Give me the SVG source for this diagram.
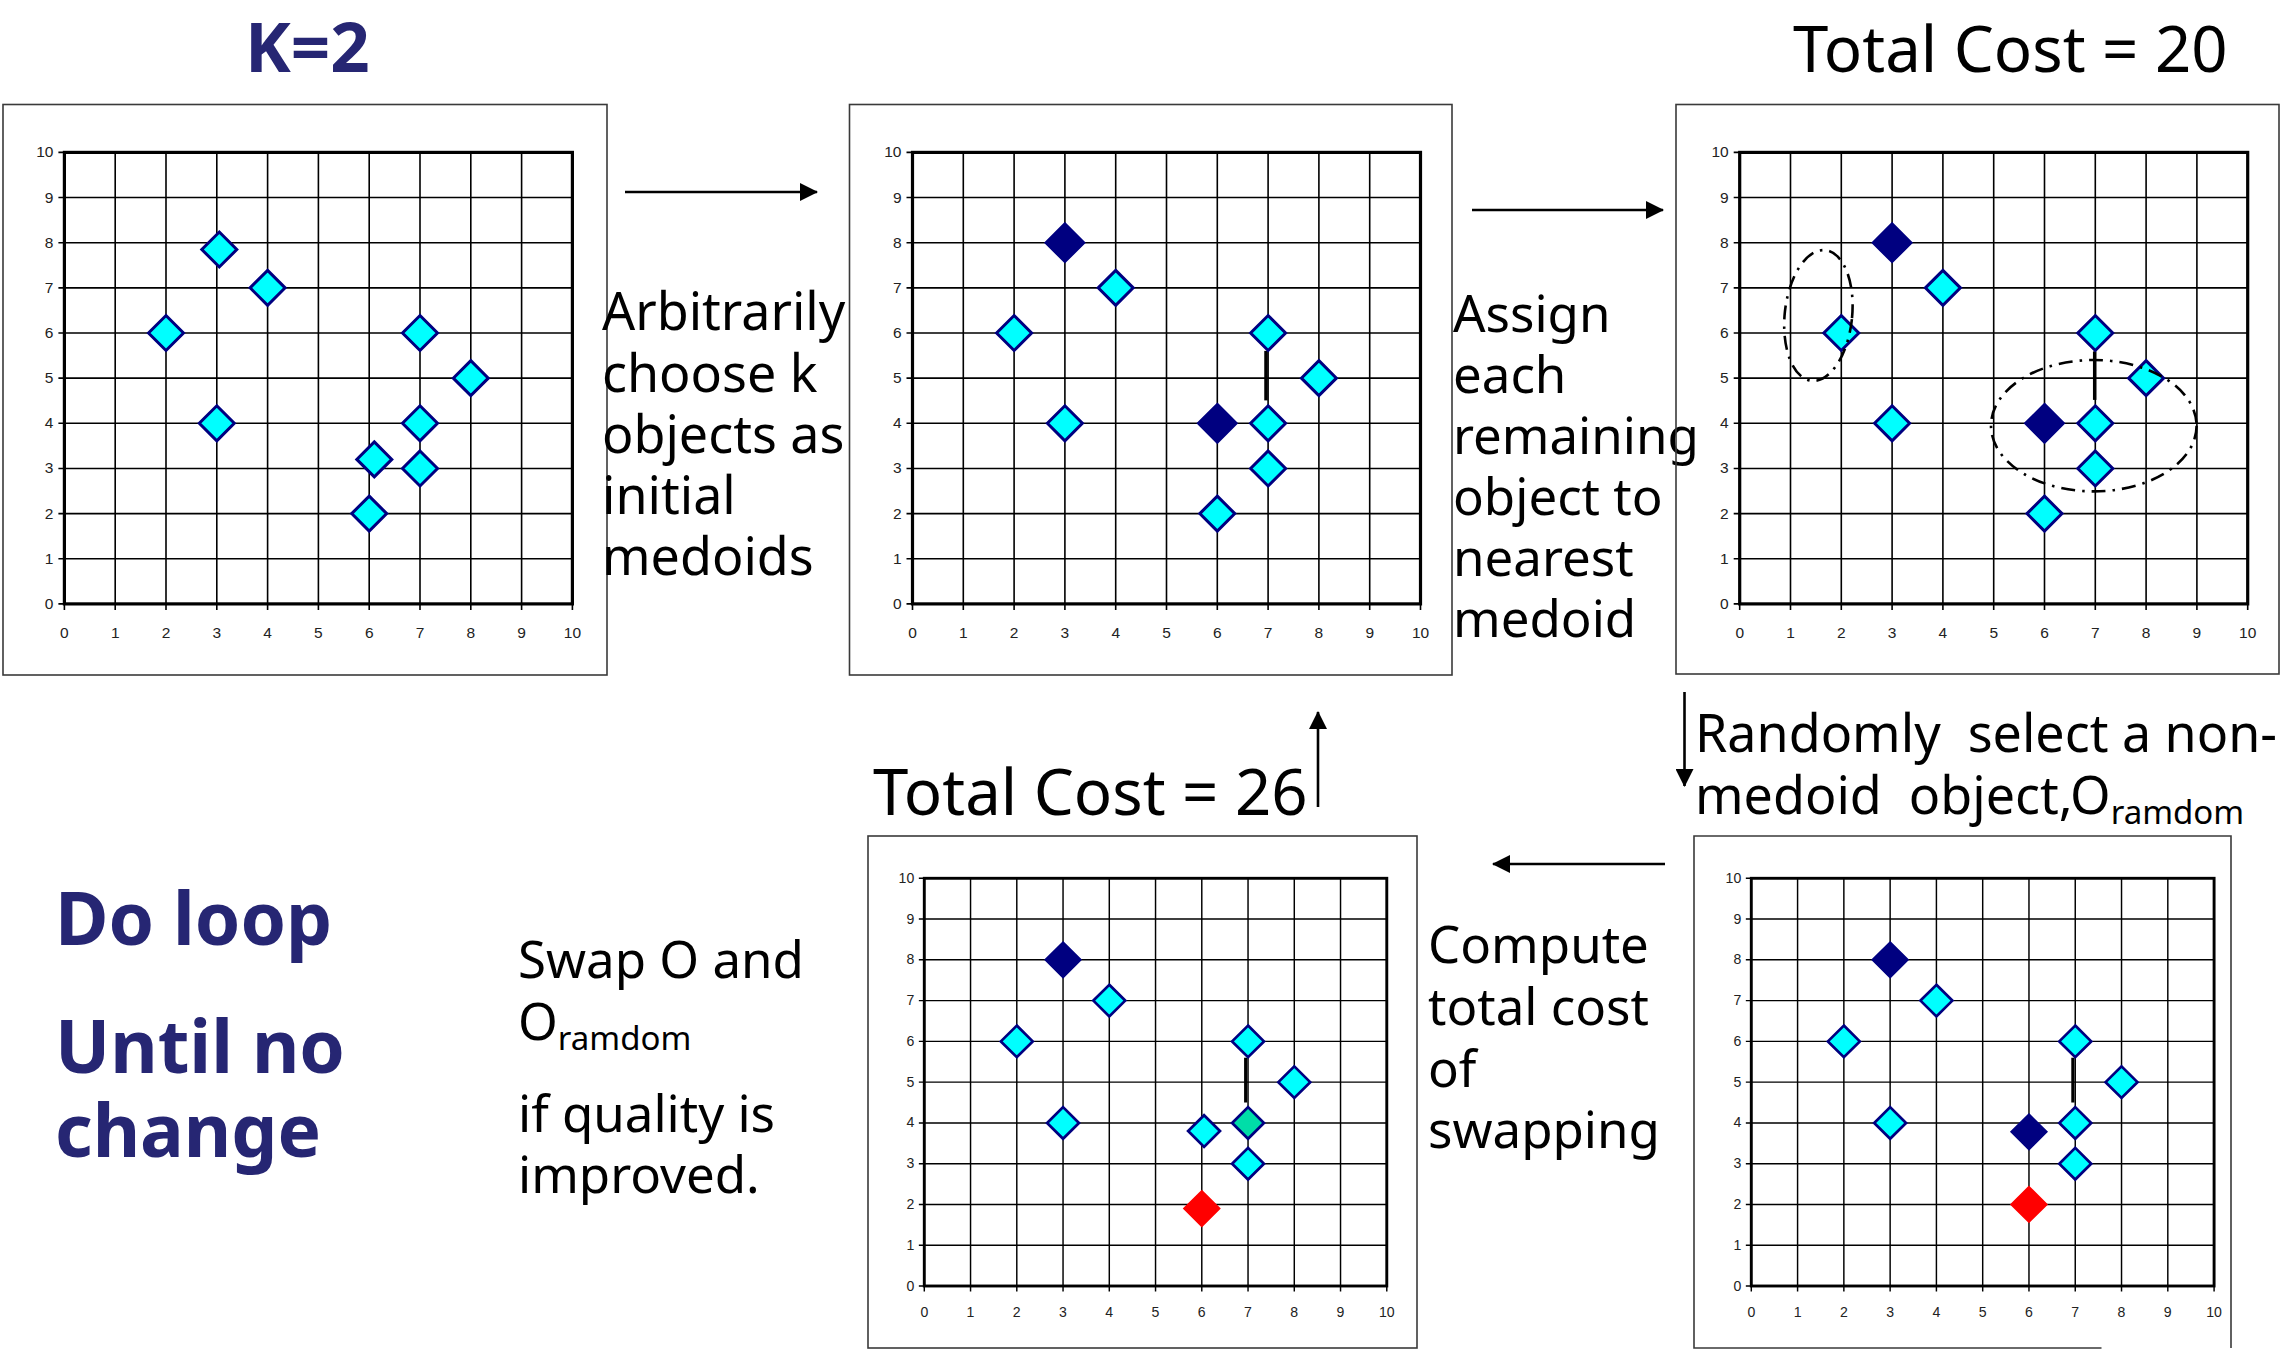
<svg xmlns="http://www.w3.org/2000/svg" xmlns:xlink="http://www.w3.org/1999/xlink" width="2284" height="1370" viewBox="0 0 2284 1370">
<style>
.frame{fill:none;stroke:#3a3a3a;stroke-width:1.6}
.gl{fill:none;stroke:#000;stroke-width:1.6}
.bd{fill:none;stroke:#000;stroke-width:3.2}
.tk{font-family:"Liberation Sans",Arial,sans-serif;font-size:15.5px;fill:#222}
.cy{fill:#00FFFF;stroke:#000080;stroke-width:3}
.nv{fill:#000080;stroke:#000080;stroke-width:2}
.rd{fill:#FF0000;stroke:#FF0000;stroke-width:2}
.gr{fill:#00DDA8;stroke:#000080;stroke-width:3}
.seg{stroke:#000;stroke-width:3.5}
.ell{fill:none;stroke:#000;stroke-width:2.6;stroke-dasharray:14 7 2.5 7}
.body{font-family:"Noto Sans","Open Sans",sans-serif;font-size:51px;fill:#000;white-space:pre}
.wide{font-size:52px}
.sub{font-size:33px}
.cost{font-family:"Noto Sans","Open Sans",sans-serif;font-size:63.5px;fill:#000}
.big{font-family:"Noto Sans","Open Sans",sans-serif;font-weight:bold;fill:#262673}
.arr{stroke:#000;stroke-width:2.6;fill:none;marker-end:url(#ah)}
</style>
<defs>
<marker id="ah" viewBox="0 0 18 18" refX="17" refY="9" markerWidth="18" markerHeight="18" markerUnits="userSpaceOnUse" orient="auto">
<path d="M0,0 L18,9 L0,18 Z" fill="#000"/>
</marker>
<path id="dm" d="M0,-17.5 L17.5,0 L0,17.5 L-17.5,0 Z"/>
<path id="dmb" d="M0,-19.5 L19.5,0 L0,19.5 L-19.5,0 Z"/>
<g id="grid">
<path class="gl" d="M50.8,0V-451.5M101.6,0V-451.5M152.4,0V-451.5M203.2,0V-451.5M254,0V-451.5M304.8,0V-451.5M355.6,0V-451.5M406.4,0V-451.5M457.2,0V-451.5M0,-45.15H508M0,-90.3H508M0,-135.45H508M0,-180.6H508M0,-225.75H508M0,-270.9H508M0,-316.05H508M0,-361.2H508M0,-406.35H508"/>
<path class="gl" d="M-6,0H0M-6,-45.15H0M-6,-90.3H0M-6,-135.45H0M-6,-180.6H0M-6,-225.75H0M-6,-270.9H0M-6,-316.05H0M-6,-361.2H0M-6,-406.35H0M-6,-451.5H0M0,0V6M50.8,0V6M101.6,0V6M152.4,0V6M203.2,0V6M254,0V6M304.8,0V6M355.6,0V6M406.4,0V6M457.2,0V6M508,0V6"/>
<rect class="bd" x="0" y="-451.5" width="508" height="451.5"/>
<g class="tk" text-anchor="end">
<text x="-11" y="5">0</text><text x="-11" y="-40.15">1</text><text x="-11" y="-85.3">2</text><text x="-11" y="-130.45">3</text><text x="-11" y="-175.6">4</text><text x="-11" y="-220.75">5</text><text x="-11" y="-265.9">6</text><text x="-11" y="-311.05">7</text><text x="-11" y="-356.2">8</text><text x="-11" y="-401.35">9</text><text x="-11" y="-446.5">10</text>
</g>
<g class="tk" text-anchor="middle">
<text x="0" y="34">0</text><text x="50.8" y="34">1</text><text x="101.6" y="34">2</text><text x="152.4" y="34">3</text><text x="203.2" y="34">4</text><text x="254" y="34">5</text><text x="304.8" y="34">6</text><text x="355.6" y="34">7</text><text x="406.4" y="34">8</text><text x="457.2" y="34">9</text><text x="508" y="34">10</text>
</g>
</g>
</defs>
<rect width="2284" height="1370" fill="#fff"/>

<g id="title-k">
<text class="big" x="245" y="72" font-size="69">K=2</text>
</g>
<g id="title-cost20">
<text class="cost" x="1793" y="72">Total Cost = 20</text>
</g>

<g id="panel1">
<rect class="frame" x="3" y="104.5" width="604" height="570.5"/>
<g transform="translate(64.4,603.9)">
<use xlink:href="#grid"/>
<use xlink:href="#dm" class="cy" x="154.9" y="-354.4"/>
<use xlink:href="#dm" class="cy" x="203.2" y="-316.05"/>
<use xlink:href="#dm" class="cy" x="101.6" y="-270.9"/>
<use xlink:href="#dm" class="cy" x="152.4" y="-180.6"/>
<use xlink:href="#dm" class="cy" x="355.6" y="-270.9"/>
<use xlink:href="#dm" class="cy" x="406.4" y="-225.75"/>
<use xlink:href="#dm" class="cy" x="355.6" y="-180.6"/>
<use xlink:href="#dm" class="cy" x="309.9" y="-144.5"/>
<use xlink:href="#dm" class="cy" x="355.6" y="-135.45"/>
<use xlink:href="#dm" class="cy" x="304.8" y="-90.3"/>
</g>
</g>

<g id="text-arbitrarily">
<text class="body wide" x="602" y="330">Arbitrarily</text>
<text class="body wide" x="602" y="391.5">choose k</text>
<text class="body wide" x="602" y="452.5">objects as</text>
<text class="body wide" x="602" y="514">initial</text>
<text class="body wide" x="602" y="575">medoids</text>
</g>

<g id="panel2">
<rect class="frame" x="849.5" y="104.5" width="602.5" height="570.5"/>
<g transform="translate(912.5,603.9)">
<use xlink:href="#grid"/>
<line class="seg" x1="353.5" y1="-253" x2="353.5" y2="-203.5"/>
<use xlink:href="#dmb" class="nv" x="152.4" y="-361.2"/>
<use xlink:href="#dm" class="cy" x="203.2" y="-316.05"/>
<use xlink:href="#dm" class="cy" x="101.6" y="-270.9"/>
<use xlink:href="#dm" class="cy" x="152.4" y="-180.6"/>
<use xlink:href="#dm" class="cy" x="355.6" y="-270.9"/>
<use xlink:href="#dm" class="cy" x="406.4" y="-225.75"/>
<use xlink:href="#dmb" class="nv" x="304.8" y="-180.6"/>
<use xlink:href="#dm" class="cy" x="355.6" y="-180.6"/>
<use xlink:href="#dm" class="cy" x="355.6" y="-135.45"/>
<use xlink:href="#dm" class="cy" x="304.8" y="-90.3"/>
</g>
</g>

<g id="text-assign">
<text class="body" x="1453" y="331.5">Assign</text>
<text class="body" x="1453" y="392.5">each</text>
<text class="body" x="1453" y="453.5">remaining</text>
<text class="body" x="1453" y="514.5">object to</text>
<text class="body" x="1453" y="575.5">nearest</text>
<text class="body" x="1453" y="636.5">medoid</text>
</g>

<g id="panel3">
<rect class="frame" x="1676" y="104.5" width="603" height="569.5"/>
<g transform="translate(1739.7,603.9)">
<use xlink:href="#grid"/>
<line class="seg" x1="355" y1="-252.5" x2="355" y2="-204"/>
<use xlink:href="#dmb" class="nv" x="152.4" y="-361.2"/>
<use xlink:href="#dm" class="cy" x="203.2" y="-316.05"/>
<use xlink:href="#dm" class="cy" x="101.6" y="-270.9"/>
<use xlink:href="#dm" class="cy" x="152.4" y="-180.6"/>
<use xlink:href="#dm" class="cy" x="355.6" y="-270.9"/>
<use xlink:href="#dm" class="cy" x="406.4" y="-225.75"/>
<use xlink:href="#dmb" class="nv" x="304.8" y="-180.6"/>
<use xlink:href="#dm" class="cy" x="355.6" y="-180.6"/>
<use xlink:href="#dm" class="cy" x="355.6" y="-135.45"/>
<use xlink:href="#dm" class="cy" x="304.8" y="-90.3"/>
<ellipse class="ell" cx="78.7" cy="-288.4" rx="33.7" ry="65.7" transform="rotate(6 78.7 -288.4)"/>
<ellipse class="ell" cx="354.1" cy="-178.2" rx="102.8" ry="65.7"/>
</g>
</g>

<g id="text-randomly">
<text class="body wide" x="1695" y="752">Randomly  select a non-</text>
<text class="body wide" x="1695" y="814">medoid  object,O<tspan class="sub" dy="10">ramdom</tspan></text>
</g>

<g id="panel5">
<path class="frame" d="M2101.5,1348H1694V836H2231V1348"/>
<g transform="translate(1751.3,1286) scale(0.911,0.903)">
<use xlink:href="#grid"/>
<line class="seg" x1="353" y1="-252.8" x2="353" y2="-203.2"/>
<use xlink:href="#dmb" class="nv" x="152.4" y="-361.2"/>
<use xlink:href="#dm" class="cy" x="203.2" y="-316.05"/>
<use xlink:href="#dm" class="cy" x="101.6" y="-270.9"/>
<use xlink:href="#dm" class="cy" x="152.4" y="-180.6"/>
<use xlink:href="#dm" class="cy" x="355.6" y="-270.9"/>
<use xlink:href="#dm" class="cy" x="406.4" y="-225.75"/>
<use xlink:href="#dmb" class="nv" x="304.8" y="-170.7"/>
<use xlink:href="#dm" class="cy" x="355.6" y="-180.6"/>
<use xlink:href="#dm" class="cy" x="355.6" y="-135.45"/>
<use xlink:href="#dmb" class="rd" x="304.8" y="-90.3"/>
</g>
</g>

<g id="text-compute">
<text class="body" x="1428" y="963">Compute</text>
<text class="body" x="1428" y="1025">total cost</text>
<text class="body" x="1428" y="1087">of</text>
<text class="body" x="1428" y="1148">swapping</text>
</g>

<g id="panel4">
<rect class="frame" x="868" y="836" width="549" height="512"/>
<g transform="translate(924.3,1286) scale(0.9104,0.903)">
<use xlink:href="#grid"/>
<line class="seg" x1="353" y1="-252.8" x2="353" y2="-203.2"/>
<use xlink:href="#dmb" class="nv" x="152.4" y="-361.2"/>
<use xlink:href="#dm" class="cy" x="203.2" y="-316.05"/>
<use xlink:href="#dm" class="cy" x="101.6" y="-270.9"/>
<use xlink:href="#dm" class="cy" x="152.4" y="-180.6"/>
<use xlink:href="#dm" class="cy" x="355.6" y="-270.9"/>
<use xlink:href="#dm" class="cy" x="406.4" y="-225.75"/>
<use xlink:href="#dm" class="cy" x="307.3" y="-171.6"/>
<use xlink:href="#dm" class="gr" x="355.6" y="-180.6"/>
<use xlink:href="#dm" class="cy" x="355.6" y="-135.45"/>
<use xlink:href="#dmb" class="rd" x="304.8" y="-85.8"/>
</g>
</g>

<g id="title-cost26">
<text class="cost" x="873" y="815">Total Cost = 26</text>
</g>

<g id="text-swap">
<text class="body" x="518" y="978">Swap O and</text>
<text class="body" x="518" y="1040">O<tspan class="sub" dy="10">ramdom</tspan></text>
<text class="body" x="518" y="1132">if quality is</text>
<text class="body" x="518" y="1193">improved.</text>
</g>

<g id="text-loop">
<text class="big" x="55" y="945" font-size="73">Do loop</text>
<text class="big" x="55" y="1073" font-size="73">Until no</text>
<text class="big" x="55" y="1157" font-size="73">change</text>
</g>

<g id="connectors">
<line class="arr" x1="625" y1="192" x2="817" y2="192"/>
<line class="arr" x1="1472" y1="210" x2="1663" y2="210"/>
<line class="arr" x1="1684.5" y1="692" x2="1684.5" y2="786"/>
<line class="arr" x1="1665" y1="864" x2="1493" y2="864"/>
<line class="arr" x1="1318" y1="807" x2="1318" y2="712"/>
</g>
</svg>
